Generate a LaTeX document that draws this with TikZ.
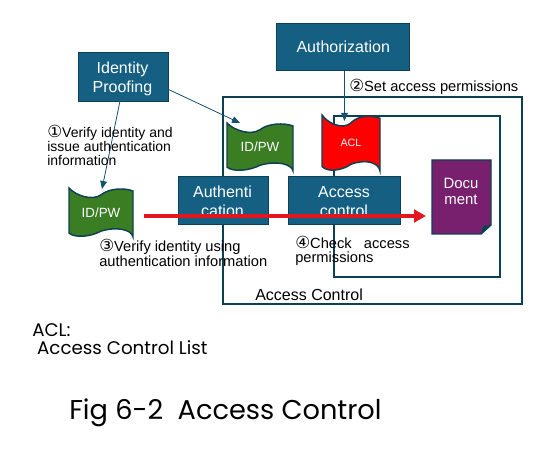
\documentclass[tikz,border=0pt]{standalone}
\usepackage{fontspec}
\setmainfont{Liberation Sans}
\newfontfamily\capfont{Poppins}
\newfontfamily\numfont{DejaVu Sans}
\usetikzlibrary{arrows.meta, positioning, calc}
\definecolor{boxblue}{RGB}{21,96,130}
\definecolor{boxedge}{RGB}{14,64,85}
\definecolor{tapegreen}{RGB}{58,125,34}
\definecolor{docpurple}{RGB}{120,32,110}
\definecolor{redline}{RGB}{225,22,30}
\newcommand{\tapeshape}[6]{% name, left, top, width, height, fill
  \begin{scope}[shift={(#2,#3)}, x=#4*0.75pt, y=-#5*0.75pt]
    \path[fill=#6, draw=boxedge, line width=1.1pt]
      (0,0) .. controls (0.1,0.15) and (0.36,0.27) .. (0.5,0.14)
      .. controls (0.62,0.01) and (0.85,-0.01) .. (1,0.06)
      -- (1,1)
      .. controls (0.98,0.85) and (0.75,0.78) .. (0.5,0.88)
      .. controls (0.35,0.99) and (0.1,1.03) .. (0,0.92)
      -- cycle;
    \coordinate (#1) at (0.5,0.5);
  \end{scope}
}
\newcommand{\stepno}[1]{{\numfont\fontsize{12.5}{10}\selectfont #1}}
\begin{document}
\begin{tikzpicture}[x=0.75pt, y=-0.75pt,
    blk/.style={rectangle, fill=boxblue, draw=boxedge, line width=1.1pt, inner sep=0pt, anchor=north west},
    blktxt/.style={text=white, font=\fontsize{12}{14.3}\selectfont, align=center, inner sep=0pt, anchor=north},
    tapetxt/.style={text=white, font=\fontsize{10}{11}\selectfont, inner sep=0pt},
    frm/.style={draw=boxedge, line width=1.4pt},
    lnk/.style={draw=boxblue!85!black, line width=0.6pt, -{Triangle[length=6pt,width=5pt]}},
    note/.style={font=\fontsize{11}{10.2}\selectfont, align=left, anchor=north west, inner sep=0pt}]
    \useasboundingbox (0,0) rectangle (547,452);
    \fill[white] (0,0) rectangle (547,452);
    % frames
    \draw[frm] (223,97) rectangle (522,304);
    \draw[frm] (334,116) rectangle (500,277);
    % boxes
    \node[blk, minimum width=90pt*0.75, minimum height=49pt*0.75] (proof) at (77.5,52) {};
    \node[blk, minimum width=133pt*0.75, minimum height=47pt*0.75] (authz) at (276,23) {};
    \node[blk, minimum width=90pt*0.75, minimum height=48pt*0.75] (authn) at (178,176) {};
    \node[blk, minimum width=112pt*0.75, minimum height=48pt*0.75] (acc) at (288,176) {};
    \node[blktxt] (prooftxt) at (122.5,61.5) {Identity\\Proofing};
    \node[blktxt, anchor=center] (authztxt) at (authz.center) {Authorization};
    \node[blktxt] (authntxt) at (222.5,186) {Authenti\\cation};
    \node[blktxt] (acctxt) at (344,186) {Access\\control};
    % document
    \path[fill=docpurple, draw=boxedge, line width=1.1pt] (432,160) -- (491,160) -- (491,225) -- (481,234) -- (432,234) -- cycle;
    \fill[boxedge] (491,225) -- (481,234) -- (483,226) -- cycle;
    \node[text=white, font=\fontsize{11.2}{12}\selectfont, align=center, inner sep=0pt] (doc) at (461,191) {Docu\\ment};
    % tapes
    \tapeshape{tapea}{69}{188}{64}{49}{tapegreen}
    \node[tapetxt] (idpwa) at (tapea) {ID/PW};
    \tapeshape{tapeb}{227}{123}{66}{48}{tapegreen}
    \node[tapetxt] (idpwb) at (tapeb) {ID/PW};
    \tapeshape{tapec}{322}{115}{58}{56}{red}
    \node[tapetxt, font=\fontsize{8}{10}\selectfont] (acl) at (351,143) {ACL};
    % connectors
    \coordinate (procout) at (167.5,89);
    \coordinate (procin) at (240,123);
    \coordinate (procdown) at (120,101);
    \coordinate (tapetop) at (102,189);
    \coordinate (aclin) at (344.5,121);
    \draw[lnk] (procdown) -- (tapetop);
    \draw[lnk] (procout) -- (procin);
    \draw[lnk] (authz.south -| aclin) -- (aclin);
    \coordinate (redfrom) at (144,216);
    \coordinate (redto) at (426,216);
    \draw[draw=redline, line width=3.3pt, -{Triangle[length=9pt,width=9.5pt]}] (redfrom) -- (redto);
    % texts
    \node[note, font=\fontsize{10.5}{10.8}\selectfont] (stepa) at (47,124.5) {\stepno{①}Verify identity and\\issue authentication\\information};
    \node[note] (stepb) at (349,79) {\stepno{②}Set access permissions};
    \node[note] (stepc) at (99,239) {\stepno{③}Verify identity using\\authentication information};
    \node[note] (stepd) at (295,236) {\stepno{④}Check\ \ \ access\\permissions};
    \node[font=\fontsize{12}{12}\selectfont, inner sep=0pt, anchor=north west] (frmname) at (255,289) {Access Control};
    \node[font=\capfont\fontsize{13.7}{13.5}\selectfont, align=left, inner sep=0pt, anchor=north west] (aclnote) at (32,323) {ACL:\\\ Access Control List};
    \node[font=\capfont\fontsize{20.4}{24}\selectfont, inner sep=0pt, anchor=north west] (title) at (69,399) {Fig 6-2\ \ Access Control};
\end{tikzpicture}
\end{document}
